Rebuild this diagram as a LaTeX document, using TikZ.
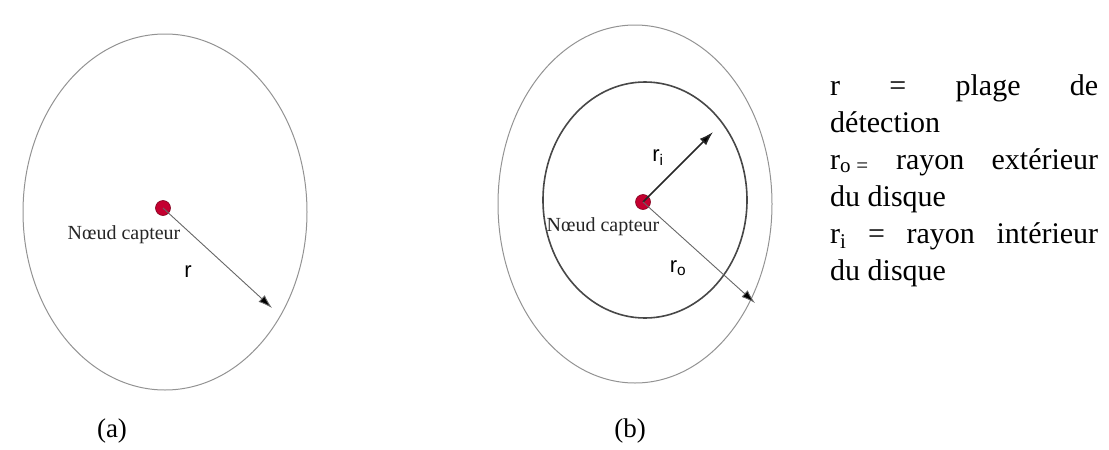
\documentclass[tikz,border=0pt]{standalone}
\usepackage{fontspec}
\setmainfont{Liberation Serif}
\setsansfont{Liberation Sans}
\usetikzlibrary{arrows.meta}
\definecolor{noeud}{RGB}{196,0,48}
\definecolor{noeudbord}{RGB}{130,0,30}
\tikzset{
  zone/.style = {draw = gray!85, line width = 1pt},
  zonein/.style = {draw = black!72, line width = 1.6pt},
  capteur/.style = {circle, fill = noeud, draw = noeudbord, line width = .6pt,
                    inner sep = 0pt, minimum size = 15pt},
  rayon/.style = {-{Latex[length = 14pt, width = 9pt, fill = black]}, black!60, line width = .9pt},
  rayonfort/.style = {rayon, black!85, line width = 1.5pt},
  etiq/.style = {font = \fontsize{20}{20}\selectfont, text = black!85, inner sep = 0pt},
  lettre/.style = {font = \sffamily\fontsize{22}{22}\selectfont, inner sep = 0pt}
}
\begin{document}
\begin{tikzpicture}[x = 1pt, y = -1pt]
      \useasboundingbox (0,0) rectangle (1109,450);
      % (a) un seul disque
      \draw [zone] (165,212) ellipse (142 and 178);
      \node [capteur] (dotA) at (163,208) {};
      \coordinate (tipA) at (272,308);
      \draw [rayon] (dotA.center) -- (tipA);
      \node [etiq] (capA) at (124,235) {Nœud capteur};
      \node [lettre] (rA) at (188,272) {r};
      \node [font = \fontsize{27}{27}\selectfont] (labA) at (112,431) {(a)};
      % (b) disque exterieur et interieur
      \draw [zone] (635,204) ellipse (137 and 179);
      \draw [zonein] (645,200) ellipse (102 and 118);
      \node [capteur] (dotB) at (643,202) {};
      \coordinate (tipI) at (713,132);
      \coordinate (tipO) at (755,303);
      \draw [rayonfort] (dotB.center) -- (tipI);
      \draw [rayon] (dotB.center) -- (tipO);
      \node [etiq] (capB) at (603,227) {Nœud capteur};
      \node [lettre] (rI) at (658,158) {r\textsubscript{i}};
      \node [lettre] (rO) at (678,268) {r\textsubscript{o}};
      \node [font = \fontsize{27}{27}\selectfont] (labB) at (630,431) {(b)};
      % legende
      \node [anchor = north west, text width = 268pt, align = justify, inner sep = 0pt,
             font = \fontsize{30}{37}\selectfont] (leg) at (830,74)
        {r = plage de\linebreak détection\\
         r\textsubscript{o}\textsubscript{ =} rayon extérieur\linebreak du disque\\
         r\textsubscript{i} = rayon intérieur\linebreak du disque};
\end{tikzpicture}
\end{document}
